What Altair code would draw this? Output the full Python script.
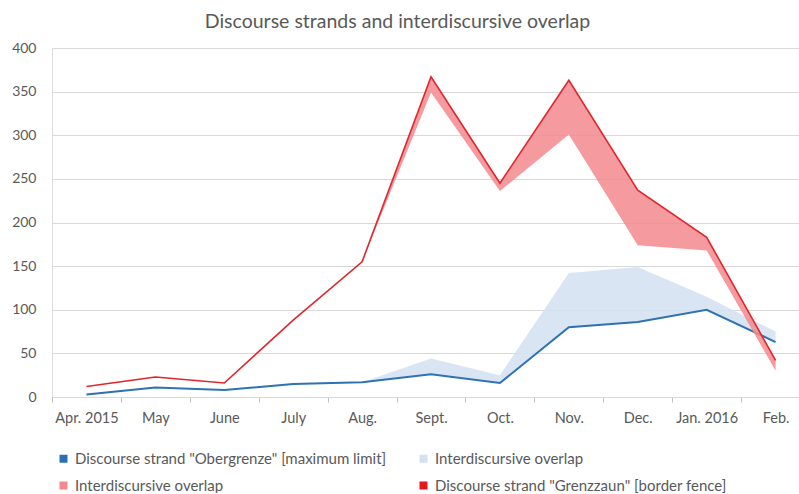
import altair as alt
import pandas as pd

# Monthly counts of articles per discourse strand
months = ["Apr. 2015", "May", "June", "July", "Aug.", "Sept.", "Oct.",
          "Nov.", "Dec.", "Jan. 2016", "Feb."]
obergrenze = [3, 11, 8, 15, 17, 26, 16, 80, 86, 100, 63]
grenzzaun = [12, 23, 16, 88, 155, 367, 245, 363, 237, 183, 42]
overlap = [0, 0, 0, 0, 0, 18, 9, 62, 63, 15, 12]

S_OBER = 'Discourse strand "Obergrenze" [maximum limit]'
S_OV_B = "Interdiscursive overlap"
S_OV_R = "Interdiscursive overlap "  # trailing space keeps the two entries distinct
S_ZAUN = 'Discourse strand "Grenzzaun" [border fence]'

series_order = [S_OBER, S_OV_B, S_OV_R, S_ZAUN]
fill_colors = ["#2B70B6", "#D3E1F2", "#F3888D", "#E3171E"]

rows = []
for i in range(len(months)):
    rows.append(dict(idx=i, series=S_OBER, lo=obergrenze[i], hi=obergrenze[i]))
    rows.append(dict(idx=i, series=S_ZAUN, lo=grenzzaun[i], hi=grenzzaun[i]))
    rows.append(dict(idx=i, series=S_OV_B, lo=obergrenze[i], hi=obergrenze[i] + overlap[i]))
    rows.append(dict(idx=i, series=S_OV_R, lo=grenzzaun[i] - overlap[i], hi=grenzzaun[i]))
df = pd.DataFrame(rows)

FONT = "Lato"
GREY = "#595959"
x_domain = [-0.5, 10.34]
x_scale = alt.Scale(domain=x_domain, nice=False, zero=False)
y_scale = alt.Scale(domain=[0, 400], nice=False)

label_expr = "[" + ",".join("'" + m + "'" for m in months) + "][round(datum.value)]"

tick_axis = alt.Axis(values=[i - 0.5 for i in range(len(months))], labels=False,
                     grid=False, orient="bottom", tickSize=5, tickColor="#BFBFBF",
                     domainColor="#D9D9D9", title=None)
label_axis = alt.Axis(values=list(range(len(months))), labelExpr=label_expr,
                      ticks=False, domain=False, grid=False, orient="bottom",
                      labelFont=FONT, labelFontSize=14.5, labelColor=GREY,
                      labelPadding=14, labelAngle=0, labelOverlap=False,
                      labelFlush=False, title=None)
y_axis = alt.Axis(values=list(range(0, 401, 50)), domain=False, ticks=False,
                  gridColor="#D9D9D9", labelFont=FONT, labelFontSize=14,
                  labelColor=GREY, labelPadding=16, title=None)

color_scale = alt.Scale(domain=series_order, range=fill_colors)
legend = alt.Legend(orient="none", legendX=4, legendY=403, columns=2,
                    direction="horizontal",
                    symbolType="square", symbolSize=64, symbolOpacity=1,
                    symbolStrokeWidth=0, labelFont=FONT, labelFontSize=15,
                    labelColor=GREY, labelOffset=4, columnPadding=29,
                    rowPadding=11, title=None, padding=0, labelLimit=400)

base = alt.Chart(df)


def band(series, xaxis):
    return base.transform_filter(alt.datum.series == series).mark_area(
        opacity=0.85, interpolate="linear"
    ).encode(
        x=alt.X("idx:Q", scale=x_scale, axis=xaxis),
        y=alt.Y("lo:Q", scale=y_scale, axis=y_axis),
        y2="hi:Q",
        color=alt.Color("series:N", scale=color_scale, legend=legend,
                        sort=series_order),
    )


def strand(series, color, width, xaxis):
    return base.transform_filter(alt.datum.series == series).mark_line(
        color=color, strokeWidth=width
    ).encode(
        x=alt.X("idx:Q", scale=x_scale, axis=xaxis),
        y=alt.Y("hi:Q", scale=y_scale, axis=y_axis),
    )


chart = alt.layer(
    band(S_OV_B, tick_axis),
    strand(S_OBER, "#2E72B4", 2, label_axis),
    band(S_OV_R, None),
    strand(S_ZAUN, "#E0262D", 1.6, None),
).resolve_axis(x="independent").properties(
    width=747,
    height=349,
    padding={"left": 52, "top": 48, "right": 0, "bottom": 96},
    autosize=alt.AutoSizeParams(type="none"),
    title=alt.TitleParams("Discourse strands and interdiscursive overlap",
                          font=FONT, fontSize=19.5, fontWeight="normal",
                          color=GREY, anchor="middle", offset=9, dx=-28),
).configure_view(stroke=None).configure(background="white")

chart.save("out.html", embed_options={"renderer": "svg", "actions": False})
